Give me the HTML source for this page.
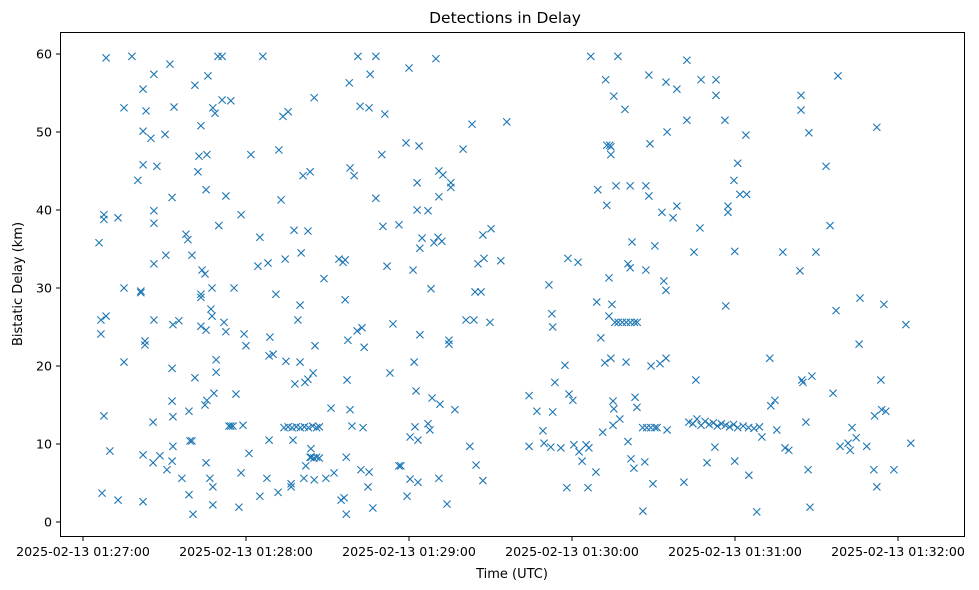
<!DOCTYPE html>
<html><head><meta charset="utf-8"><style>
body{margin:0;background:#fff;}
svg{display:block;font-family:"DejaVu Sans","Liberation Sans",sans-serif;}
</style></head><body>
<svg id="chart" width="979" height="590">
<text x="505" y="23" text-anchor="middle" font-size="15.5">Detections in Delay</text>
<text x="512" y="578" text-anchor="middle" font-size="13">Time (UTC)</text>
<text transform="translate(22,284) rotate(-90)" text-anchor="middle" font-size="13">Bistatic Delay (km)</text>
<g id="axes"></g>
<g id="marks"></g>
<rect x="60.5" y="32.5" width="904" height="504" fill="none" stroke="#000" stroke-width="1"/>
</svg>
<script>
// seconds after 2025-02-13 01:27:00
const timeSec=[5.9,6.6,6.6,7.7,7.7,8.5,8.5,7.7,7,9.9,12.9,12.9,15.1,15.1,15.1,18,20.2,21.3,21.3,22.1,22.1,22.1,22.8,22.8,22.1,22.1,23.2,25,25.8,25.8,26.1,26.1,26.1,26.1,26.1,27.2,28.3,30.2,30.5,30.9,32,32.8,33.1,32.8,33.1,32.8,33.5,32.8,33.1,35.3,36.4,37.9,38.6,39,39.4,39,40.1,40.1,41.2,41.2,40.5,42.3,42.7,43.4,43.4,43.4,43.4,43.8,44.9,45.3,45.6,45.3,44.9,45.6,45.3,46,46.7,47.1,47.5,47.5,47.8,47.8,47.8,48.2,48.6,49,49,49.7,50,51.2,51.2,51.9,52.6,52.6,53.7,54.4,54.4,55.2,55.6,56.3,57.4,58.2,58.2,58.9,59.3,60,61.1,61.8,64.4,65.1,65.1,66.2,67.7,68.1,68.5,68.8,68.5,70,71,71.8,72.1,72.9,73.6,74.4,75.5,74.7,76.6,76.6,77.3,77.7,78,79.1,79.9,80.3,79.9,81,81.3,81.7,82,82.8,82.8,83.6,83.6,83.9,84.7,85.1,85.4,85.1,
74,75.5,77,78.5,80,81.5,83,84.5,86,87,84,85,86,87,
88.7,89.4,91.3,92.4,94.2,95,95.7,96.1,96.5,96.5,96.9,96.9,97.2,97.5,98,98.3,98.3,99,99.8,100.9,101.2,102,102.7,102.3,103.1,103.5,104.9,105.3,105.3,105.7,106.7,107.8,107.8,110,110.4,111.1,111.9,113,114.1,116.3,117,116.3,118.9,119.3,120.4,120.4,120,121.5,121.9,122.2,122.6,123,123,123.3,123.3,123.7,124,124,124.8,127,127,127.7,128.1,128.5,129.2,129.9,130.7,131,131,131.4,131,132.1,132.5,134,134.7,134.7,135.4,135.4,136.9,139.9,141,142.4,143.2,143.9,144.3,144.7,145.4,146.5,147.2,147.2,147.6,149.8,150.2,153.8,156,
164.2,164.2,167.1,169.3,169.7,171.5,172.6,172.9,172.2,172.9,173.7,175.9,177.4,178.5,178.1,178.9,180.3,180.7,182.2,182.6,183.7,185.2,185.9,186.2,186.9,188.8,189.1,189.5,190.6,191.3,192.1,192.4,192.8,192.8,193.6,193.6,193.9,194.3,194.3,194.3,194.7,195.1,195.1,195.4,195.4,195.8,196.2,196.9,197.6,
197,198.5,200,201.5,203,204,
199.5,199.9,200.6,200.6,201.4,201.4,201.7,202.1,202.8,203.2,203.9,206.1,206.8,207.2,207.2,208.3,208.3,208.7,209.1,209.8,210.5,211.3,206,207.5,209,210.5,212.4,213.1,213.8,214.6,214.6,214.6,215,215,217.2,218.6,218.6,221.2,222.3,222.3,224.9,225.6,227.1,227.5,229.7,232.6,233,233,
223,224.5,226,227.5,229,230.5,232,233.5,235,236.5,238,239.5,241,243,245,247,249,
236.3,236.6,237.4,237.4,239.6,239.9,239.9,241,241.8,244,244.3,245.1,248,249.9,252.8,253.2,254.7,255.4,257.6,258.4,259.8,263.9,264.3,264.3,264.6,265,266.1,266.9,267.2,267.6,268.3,269.8,273.5,275,276.1,277.2,277.9,278.7,281.6,282.4,283.1,284.6,285.7,286,288.5,291.1,291.4,292.2,292.2,293.7,294,294.8,295.5,298.5,302.9,304.7];
const delayKm=[35.8,25.9,24.1,39.4,38.8,26.4,59.5,13.6,3.7,9.1,39,2.8,53.1,30,20.5,59.7,43.8,29.4,29.6,55.5,50.1,45.8,23.2,22.7,8.6,2.6,52.7,49.2,12.8,7.6,57.4,39.9,38.3,33.1,25.9,45.6,8.5,49.7,34.2,6.7,58.7,19.7,9.7,7.8,13.5,15.5,53.2,41.6,25.3,25.8,5.6,36.9,36.2,3.5,10.4,14.2,10.4,34.2,56,18.5,1,44.9,46.9,28.8,29.2,25.1,50.8,32.3,31.8,42.6,47.1,7.6,15,15.6,24.6,57.2,5.6,27.3,30,26.4,4.5,2.2,53.1,16.5,52.4,20.8,19.2,59.7,38,59.7,54.1,25.6,41.8,24.4,12.3,12.3,54,12.3,30,16.4,1.9,39.4,6.3,12.4,24.1,22.6,8.8,47.1,32.8,36.5,3.3,59.7,5.6,33.2,10.5,23.7,21.3,21.5,29.2,3.8,47.7,41.3,52,33.7,52.6,20.6,4.5,4.9,10.5,37.4,17.7,25.9,27.8,34.5,20.5,44.4,5.6,17.9,7.2,37.3,18.3,44.9,8.3,9.4,19.1,54.4,22.6,5.4,
12.1,12.2,12.1,12.2,12.1,12.2,12.1,12.3,12.1,12.2,8.3,8.2,8.3,8.2,
31.2,5.6,14.6,6.3,33.7,2.8,33.3,3.1,28.5,33.6,1,8.3,18.2,23.3,56.3,45.4,14.4,12.3,44.4,24.5,59.7,53.3,24.9,6.7,12.1,22.4,4.5,6.4,53.1,57.4,1.8,59.7,41.5,47.1,37.9,52.3,32.8,19.1,25.4,7.2,7.2,38.1,48.6,3.3,10.9,5.5,58.2,32.3,20.5,12.2,16.8,43.5,40,10.5,5.1,48.2,24,35.1,36.4,39.9,12.6,11.8,29.9,15.9,35.8,59.4,36.5,41.7,45,15.1,5.6,36,44.5,2.3,23.3,22.8,43.5,42.9,14.4,47.8,25.9,9.7,51,25.9,29.5,7.3,33.1,29.5,5.3,36.8,33.8,25.6,37.6,33.5,51.3,
16.2,9.7,14.2,11.7,10.1,30.4,26.7,25,9.6,14.1,17.9,9.5,20.1,33.8,4.4,16.4,15.6,9.9,33.3,9,7.8,9.9,4.4,9.5,59.7,6.4,28.2,42.6,23.6,11.5,20.4,56.7,48.3,40.6,26.4,31.3,48.3,21,48.1,47.1,27.9,15.5,12.4,14.5,54.6,25.6,43.1,59.7,13.2,
25.6,25.6,25.6,25.6,25.6,25.6,
52.9,20.5,10.3,33.1,43.1,32.6,8.1,35.9,6.9,16,14.7,1.4,7.7,43.1,32.3,41.8,57.3,48.5,20,4.9,35.4,12.1,12.1,12.1,12.1,12.1,20.3,39.7,30.9,29.7,56.4,21,50,11.8,39,40.5,55.5,5.1,51.5,59.2,34.6,18.2,37.7,56.7,7.6,9.6,54.7,56.7,
12.8,12.6,13.2,12.4,12.9,12.5,12.7,12.3,12.6,12.4,12.2,12.5,12.1,12.3,12.1,12,12.2,
51.5,27.7,40.5,39.7,43.8,7.8,34.7,46,42,49.6,42,6,1.3,10.9,21,14.9,15.6,11.8,34.6,9.5,9.2,32.2,54.7,52.8,18.2,17.9,12.8,6.7,49.9,1.9,18.7,34.6,45.6,38,16.5,27.1,57.2,9.7,10.1,9.2,12.1,10.8,22.8,28.7,9.7,6.7,13.6,50.6,4.5,18.2,14.4,27.9,14.2,6.7,25.3,10.1];
const xTickSec=[0,60,120,180,240,300];
const xTickLabels=["2025-02-13 01:27:00","2025-02-13 01:28:00","2025-02-13 01:29:00","2025-02-13 01:30:00","2025-02-13 01:31:00","2025-02-13 01:32:00"];
const yTicks=[0,10,20,30,40,50,60];

const NS="http://www.w3.org/2000/svg";
function xs(t){return 83+t*163/60;}
function ys(d){return 522-d*7.8;}
const axes=document.getElementById('axes');
const marks=document.getElementById('marks');
function mk(tag,attrs,parent){const e=document.createElementNS(NS,tag);for(const k in attrs)e.setAttribute(k,attrs[k]);parent.appendChild(e);return e;}
xTickSec.forEach((t,i)=>{
  const x=xs(t);
  const l=mk('line',{x1:x,x2:x,y1:536.5,y2:541,stroke:'#000'},axes);
  
  
  const tx=mk('text',{x:x,y:556,'text-anchor':'middle','font-size':12.6},axes);
  tx.textContent=xTickLabels[i];
  
  
});
yTicks.forEach(v=>{
  const y=ys(v);
  const l=mk('line',{x1:56,x2:60.5,y1:y,y2:y,stroke:'#000'},axes);
  
  
  const tx=mk('text',{x:52,y:y+4.5,'text-anchor':'end','font-size':12.6},axes);
  tx.textContent=v;
  
  
});
for(let i=0;i<timeSec.length;i++){
  const x=xs(timeSec[i]),y=ys(delayKm[i]),r=3.6;
  const p=mk('path',{d:`M${x-r},${y-r}L${x+r},${y+r}M${x-r},${y+r}L${x+r},${y-r}`,stroke:'#1f77b4','stroke-width':1.1,fill:'none'},marks);
  
  
}
</script>
</body></html>
